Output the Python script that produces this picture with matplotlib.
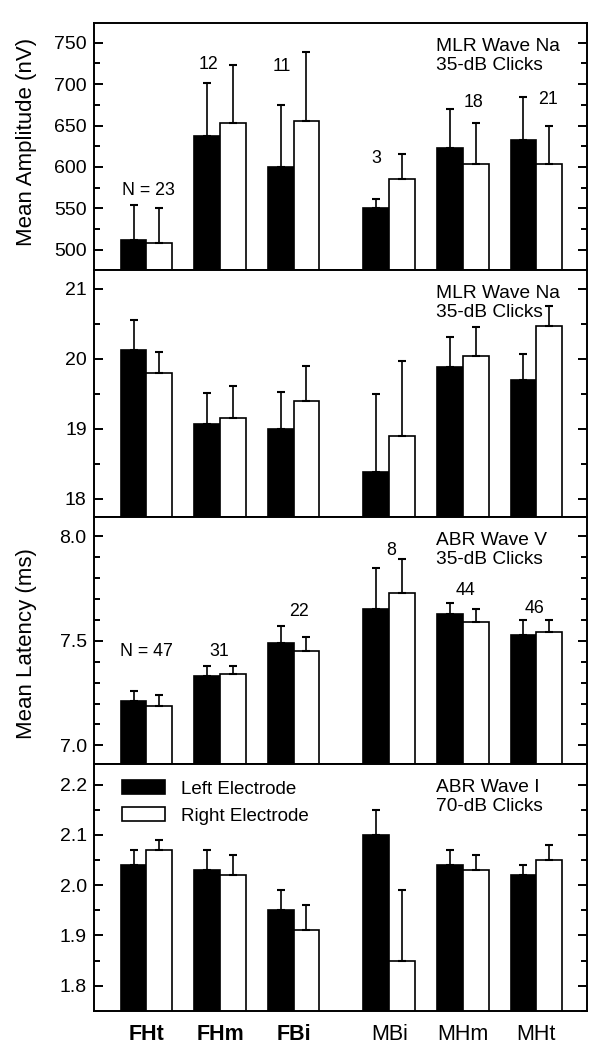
import numpy as np
import matplotlib
matplotlib.use('Agg')
import matplotlib.pyplot as plt
from matplotlib.ticker import MultipleLocator

plt.rcParams['font.family'] = ['Liberation Sans', 'DejaVu Sans']

groups = ['FHt', 'FHm', 'FBi', 'MBi', 'MHm', 'MHt']
group_x = [0, 1, 2, 3.3, 4.3, 5.3]

# MLR wave Na amplitude (nV)
amp_left = [512, 637, 600, 550, 623, 633]
amp_left_err = [42, 65, 75, 11, 47, 52]
amp_right = [508, 653, 655, 585, 604, 603]
amp_right_err = [43, 70, 84, 31, 49, 46]
amp_n = ['N = 23', '12', '11', '3', '18', '21']
amp_n_x = [0.03, 0.85, 1.84, 3.13, 4.45, 5.46]
amp_n_y = [566, 718, 716, 605, 673, 676]

# MLR wave Na latency (ms)
na_left = [20.12, 19.07, 19.00, 18.38, 19.88, 19.70]
na_left_err = [0.43, 0.44, 0.52, 1.12, 0.43, 0.37]
na_right = [19.80, 19.15, 19.39, 18.90, 20.04, 20.47]
na_right_err = [0.29, 0.46, 0.50, 1.06, 0.41, 0.28]

# ABR wave V latency (ms)
v_left = [7.21, 7.33, 7.49, 7.65, 7.63, 7.53]
v_left_err = [0.05, 0.05, 0.08, 0.20, 0.05, 0.07]
v_right = [7.19, 7.34, 7.45, 7.73, 7.59, 7.54]
v_right_err = [0.05, 0.04, 0.07, 0.16, 0.06, 0.06]
v_n = ['N = 47', '31', '22', '8', '44', '46']
v_n_x = [0.0, 0.99, 2.07, 3.32, 4.33, 5.28]
v_n_y = [7.428, 7.428, 7.62, 7.91, 7.72, 7.635]

# ABR wave I latency (ms)
i_left = [2.04, 2.03, 1.95, 2.10, 2.04, 2.02]
i_left_err = [0.03, 0.04, 0.04, 0.05, 0.03, 0.02]
i_right = [2.07, 2.02, 1.91, 1.85, 2.03, 2.05]
i_right_err = [0.02, 0.04, 0.05, 0.14, 0.03, 0.03]

panels = [
    (amp_left, amp_left_err, amp_right, amp_right_err, (475.8, 774.2), 50, 25,
     ['MLR Wave Na', '35-dB Clicks'], '%d'),
    (na_left, na_left_err, na_right, na_right_err, (17.74, 21.27), 1, 0.5,
     ['MLR Wave Na', '35-dB Clicks'], '%d'),
    (v_left, v_left_err, v_right, v_right_err, (6.911, 8.093), 0.5, 0.1,
     ['ABR Wave V', '35-dB Clicks'], '%.1f'),
    (i_left, i_left_err, i_right, i_right_err, (1.7496, 2.241), 0.1, 0.05,
     ['ABR Wave I', '70-dB Clicks'], '%.1f'),
]

fig, axes = plt.subplots(4, 1, sharex=True, figsize=(6.11, 10.48), dpi=100,
                         gridspec_kw={'hspace': 0})
fig.subplots_adjust(left=0.1543, right=0.9607, top=0.9783, bottom=0.0353)

x = np.array(group_x)
w = 0.35
for ax, (left, left_err, right, right_err, ylim, major, minor, note, fmt) in zip(axes, panels):
    zeros = np.zeros(len(left))
    ax.bar(x - w / 2, left, w, color='black', edgecolor='black', linewidth=1.2,
           label='Left Electrode', zorder=2)
    ax.bar(x + w / 2, right, w, color='white', edgecolor='black', linewidth=1.2,
           label='Right Electrode', zorder=2)
    ax.errorbar(x - w / 2, left, yerr=[zeros, left_err], fmt='none', ecolor='black',
                elinewidth=1.2, capsize=3.2, capthick=1.5, zorder=3)
    ax.errorbar(x + w / 2, right, yerr=[zeros, right_err], fmt='none', ecolor='black',
                elinewidth=1.2, capsize=3.2, capthick=1.5, zorder=3)
    ax.set_ylim(ylim)
    ax.set_xlim(-0.709, 5.988)
    ax.yaxis.set_major_locator(MultipleLocator(major))
    ax.yaxis.set_minor_locator(MultipleLocator(minor))
    ax.yaxis.set_major_formatter(plt.FormatStrFormatter(fmt))
    ax.tick_params(axis='y', which='both', direction='in', left=True, right=True,
                   width=1.4, labelsize=14, pad=5.5)
    ax.tick_params(axis='y', which='major', length=6.5)
    ax.tick_params(axis='y', which='minor', length=4)
    ax.tick_params(axis='x', length=0)
    for sp in ax.spines.values():
        sp.set_linewidth(1.4)
    ax.text(0.6928, 0.887, note[0], transform=ax.transAxes, fontsize=13.8,
            ha='left', va='baseline')
    ax.text(0.6928, 0.810, note[1], transform=ax.transAxes, fontsize=13.8,
            ha='left', va='baseline')

for lab, lx, ly in zip(amp_n, amp_n_x, amp_n_y):
    axes[0].text(lx, ly, lab, fontsize=12.8, ha='center', va='baseline')
for lab, lx, ly in zip(v_n, v_n_x, v_n_y):
    axes[2].text(lx, ly, lab, fontsize=12.8, ha='center', va='baseline')

axes[3].set_xticks(group_x)
axes[3].set_xticklabels(groups, fontsize=15.5)
axes[3].tick_params(axis='x', pad=9)
for t in axes[3].get_xticklabels()[:3]:
    t.set_fontweight('bold')

axes[3].legend(loc='upper left', bbox_to_anchor=(0.056, 0.935), frameon=False,
               fontsize=13.5, handlelength=2.3, handleheight=0.78,
               handletextpad=0.85, labelspacing=0.5, borderpad=0, borderaxespad=0)

fig.text(0.0437, 0.8645, 'Mean Amplitude (nV)', rotation=90, fontsize=16,
         ha='center', va='center')
fig.text(0.0437, 0.3862, 'Mean Latency (ms)', rotation=90, fontsize=16,
         ha='center', va='center')

fig.savefig('out.png', dpi=100)
